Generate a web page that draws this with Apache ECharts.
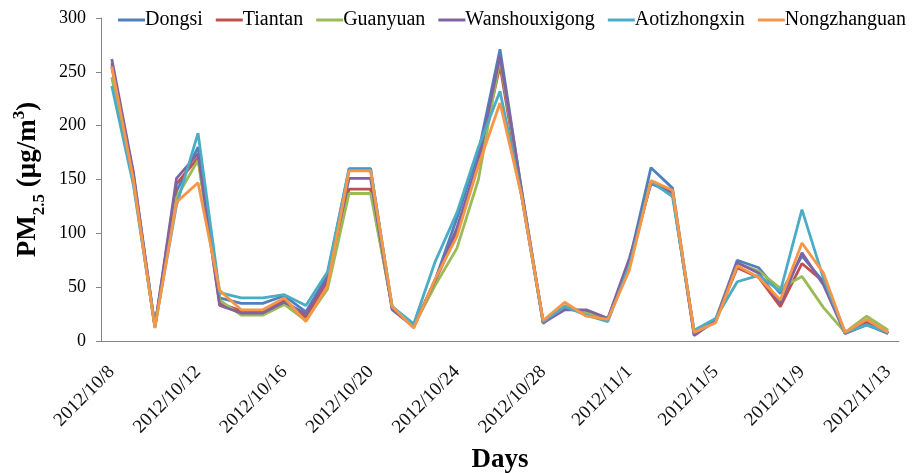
<!DOCTYPE html>
<html><head><meta charset="utf-8">
<script src="https://cdn.jsdelivr.net/npm/echarts@6/dist/echarts.min.js"></script>
<style>html,body{margin:0;padding:0;background:#fff}#c{width:920px;height:473px}</style>
</head><body><div id="c"></div>
<script>
const days = ['2012/10/8','2012/10/9','2012/10/10','2012/10/11','2012/10/12','2012/10/13','2012/10/14','2012/10/15','2012/10/16','2012/10/17','2012/10/18','2012/10/19','2012/10/20','2012/10/21','2012/10/22','2012/10/23','2012/10/24','2012/10/25','2012/10/26','2012/10/27','2012/10/28','2012/10/29','2012/10/30','2012/10/31','2012/11/1','2012/11/2','2012/11/3','2012/11/4','2012/11/5','2012/11/6','2012/11/7','2012/11/8','2012/11/9','2012/11/10','2012/11/11','2012/11/12','2012/11/13'];
const dongsi = [258,155,14,139,180,40,35,35,42,27,61,160,160,30,14,57,114,175,271,140,18,30,27,20,74,161,142,7,20,75,68,44,79,55,7,15,7];
const tiantan = [255,150,13,146,170,35,28,28,38,22,55,141,141,31,13,56,100,165,256,135,18,32,26,20,70,148,138,7,19,68,59,32,72,55,8,18,8];
const guanyuan = [245,148,13,133,168,38,24,24,34,19,48,137,137,32,14,52,86,150,262,138,16,33,26,21,72,148,137,8,20,72,65,49,60,31,8,23,10];
const wanshouxigong = [262,157,13,151,174,33,26,26,36,25,58,151,151,29,13,57,105,168,265,140,17,29,29,21,77,146,138,5,19,73,63,35,82,52,7,16,7];
const aotizhongxin = [237,145,14,126,193,45,40,40,43,33,64,159,159,32,16,74,119,180,232,135,18,32,24,18,70,148,134,10,21,55,61,46,122,58,8,15,8];
const nongzhanguan = [255,150,12,129,147,47,29,29,40,18,51,158,158,32,12,58,97,163,221,135,19,36,23,20,66,149,140,8,17,70,59,38,91,63,8,20,8];
const yTicks = [0,50,100,150,200,250,300];

const names = ['Dongsi','Tiantan','Guanyuan','Wanshouxigong','Aotizhongxin','Nongzhanguan'];
const colors = ['#4F81BD','#C0504D','#9BBB59','#8064A2','#4BACC6','#F79646'];
const datas = [dongsi,tiantan,guanyuan,wanshouxigong,aotizhongxin,nongzhanguan];
const serif = '"Liberation Serif","Times New Roman",serif';

const chart = echarts.init(document.getElementById('c'), null, {renderer:'canvas'});
chart.setOption({
  animation:false,
  color: colors,
  legend:{
    top:5, left:113, width:830, itemWidth:27, itemHeight:3, itemGap:13,
    icon:'rect',
    textStyle:{fontFamily:serif, fontSize:20, color:'#000', padding:[0,0,0,-5]},
    data:names
  },
  grid:{left:101, right:21, top:18, bottom:132, containLabel:false, outerBoundsMode:'none'},
  xAxis:{
    type:'category', data:days, boundaryGap:true,
    axisLine:{lineStyle:{color:'#868686', width:1}},
    axisTick:{interval:3, length:5, lineStyle:{color:'#868686'}},
    axisLabel:{interval:3, rotate:45, fontFamily:serif, fontSize:19, color:'#111', margin:28},
    name:'Days', nameLocation:'middle', nameGap:106,
    nameTextStyle:{fontFamily:serif, fontSize:27, fontWeight:'bold', color:'#000'}
  },
  yAxis:{
    type:'value', min:yTicks[0], max:yTicks[yTicks.length-1], interval:50,
    splitLine:{show:false},
    axisLine:{show:true, lineStyle:{color:'#868686', width:1}},
    axisTick:{show:true, length:5, lineStyle:{color:'#868686'}},
    axisLabel:{fontFamily:serif, fontSize:18, color:'#000', margin:15},
    name:'{b|PM}{s|2.5}{b| (μg/m}{p|3}{b|)}', nameLocation:'middle', nameGap:58, nameRotate:90,
    nameTextStyle:{
      rich:{
        b:{fontFamily:serif, fontSize:27, fontWeight:'bold', color:'#000', verticalAlign:'bottom', lineHeight:30},
        s:{fontFamily:serif, fontSize:17, fontWeight:'bold', color:'#000', verticalAlign:'bottom', lineHeight:22, padding:[0,0,-7,0]},
        p:{fontFamily:serif, fontSize:17, fontWeight:'bold', color:'#000', verticalAlign:'top', lineHeight:30, padding:[0,0,10,0]}
      }
    }
  },
  series: names.map((n,i)=>({
    name:n, type:'line', data:datas[i], showSymbol:false, symbol:'none',
    lineStyle:{width:2.8, color:colors[i]}, itemStyle:{color:colors[i]}
  }))
});
</script></body></html>
